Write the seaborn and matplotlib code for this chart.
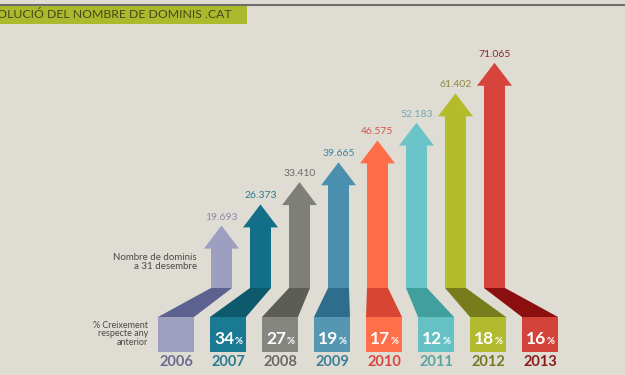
import matplotlib
matplotlib.use("Agg")
import matplotlib.pyplot as plt
import seaborn as sns
import pandas as pd
from matplotlib.patches import Polygon, Rectangle
from matplotlib.lines import Line2D

# dades
years = ["2006", "2007", "2008", "2009", "2010", "2011", "2012", "2013"]
domains = [19693, 26373, 33410, 39665, 46575, 52183, 61402, 71065]
domain_labels = ["19.693", "26.373", "33.410", "39.665", "46.575", "52.183", "61.402", "71.065"]
growth = [None, 34, 27, 19, 17, 12, 18, 16]

# colors
shaft_colors = ["#9c9fc0", "#136f87", "#7f7f79", "#4a90ae", "#ff6e49", "#6bc5c8", "#b3bc2b", "#d6443b"]
box_colors = ["#9da0bf", "#1b7a93", "#868680", "#5596b3", "#ff6f49", "#66c1c4", "#b2ba2d", "#d3433a"]
dark_colors = ["#5c6190", "#0c5a6c", "#5d5d57", "#2e6e8c", "#d84633", "#419f9e", "#777d1c", "#8c0f0f"]
year_colors = ["#6c6c90", "#2a7a92", "#6b6b66", "#3d7f99", "#d9473f", "#5aa5a3", "#757a22", "#8b1a1a"]
value_colors = ["#8a8aa8", "#2a7a8c", "#6b6b66", "#3f85a0", "#d9544b", "#6fa9b8", "#8a8a3a", "#8a2a2a"]

bg = "#dfdcd4"
sns.set_theme(style="white")
plt.rcParams["font.family"] = ["Lato", "DejaVu Sans"]

W, H = 625, 375
fig = plt.figure(figsize=(W / 100, H / 100), dpi=100, facecolor=bg)

n = len(years)
df = pd.DataFrame({"year": years, "domains": domains})

# eix de les fletxes: 39 px per any, y=0 a 288 px, 315.5 dominis per px
units_per_px = 315.5
ymax = 75000
top_h = ymax / units_per_px
ax = fig.add_axes([202 / W, (H - 288) / H, 312 / W, top_h / H])
head_len = 23 * units_per_px
head_w = 35 / 39
shaft_w = 21 / 39
df["shaft"] = df["domains"] - head_len + 200
sns.barplot(data=df, x="year", y="shaft", hue="year", palette=shaft_colors,
            width=shaft_w, saturation=1, legend=False, ax=ax,
            edgecolor="none", linewidth=0)
for i, v in enumerate(domains):
    tri = Polygon([(i - head_w / 2, v - head_len), (i + head_w / 2, v - head_len), (i, v)],
                  closed=True, facecolor=shaft_colors[i], edgecolor="none", lw=0)
    ax.add_patch(tri)
    ax.text(i, v + 4 * units_per_px, domain_labels[i], ha="center", va="bottom",
            fontsize=7.5, color=value_colors[i])
ax.set_xlim(-0.5, n - 0.5)
ax.set_ylim(0, ymax)
ax.axis("off")

# eix de les caixes: 52 px per any, entre 288 i 352 px
ax2 = fig.add_axes([150 / W, (H - 352) / H, 416 / W, 64 / H])
box_top = 35 / 64
half_box = 18 / 52
half_shaft = 10.5 / 52
df["box"] = box_top
sns.barplot(data=df, x="year", y="box", hue="year", palette=box_colors,
            width=2 * half_box, saturation=1, legend=False, ax=ax2,
            edgecolor="none", linewidth=0)
for i in range(n):
    s = (n - 1) / 2 + 0.75 * (i - (n - 1) / 2)
    quad = Polygon([(i - half_box, box_top), (i + half_box, box_top),
                    (s + half_shaft, 1.0), (s - half_shaft, 1.0)],
                   closed=True, facecolor=dark_colors[i], edgecolor="none", lw=0)
    ax2.add_patch(quad)
    if growth[i] is not None:
        ax2.text(i + 0.125, 0.2, str(growth[i]), ha="right", va="center",
                 fontsize=12.5, fontweight="bold", color="white")
        ax2.text(i + 0.127, 0.17, "%", ha="left", va="center",
                 fontsize=7, fontweight="bold", color="white")
    ax2.text(i, -0.16, years[i], ha="center", va="center", fontsize=10.5,
             fontweight="bold", color=year_colors[i], clip_on=False)
ax2.set_xlim(-0.5, n - 0.5)
ax2.set_ylim(0, 1)
ax2.axis("off")

# títol (retallat a l'esquerra com a l'original)
fig.add_artist(Line2D([0, 1], [1 - 4.5 / H, 1 - 4.5 / H], color="#6e6e6a", lw=1.5))
fig.add_artist(Rectangle((0, 1 - 24 / H), 247 / W, 18.5 / H, facecolor="#abba2c",
                         edgecolor="none"))
fig.text(232 / W, 1 - 15 / H, "EVOLUCIÓ DEL NOMBRE DE DOMINIS .CAT", ha="right",
         va="center", fontsize=8.8, color="#46461c")

# etiquetes laterals
fig.text(197 / W, 1 - 262 / H, "Nombre de dominis\na 31 desembre", ha="right",
         va="center", fontsize=7, color="#4a4a48", linespacing=0.95, multialignment="right")
fig.text(148 / W, 1 - 334 / H, "% Creixement\nrespecte any\nanterior", ha="right",
         va="center", fontsize=6.5, color="#4a4a48", linespacing=0.95, multialignment="right")

fig.savefig("out.png", dpi=100, facecolor=bg)
